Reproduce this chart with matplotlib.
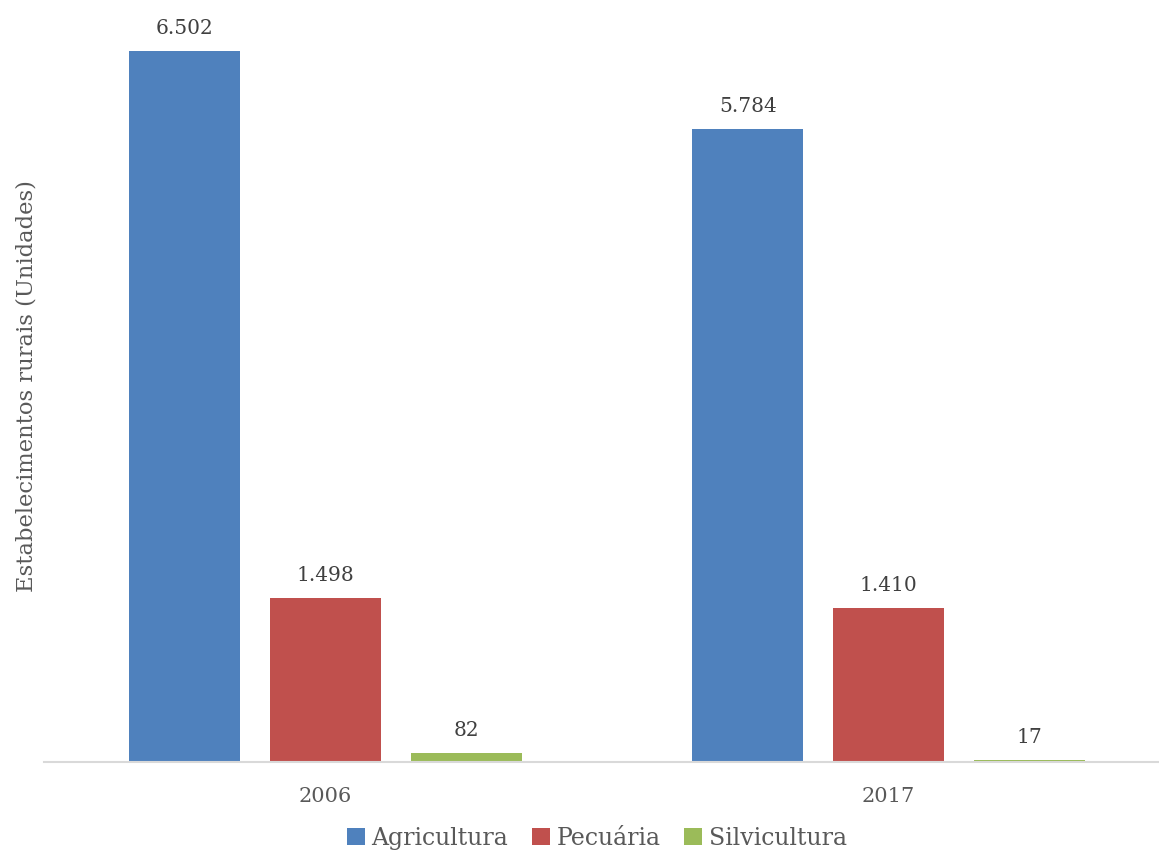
import numpy as np
import matplotlib
matplotlib.use("Agg")
import matplotlib.pyplot as plt

# Estabelecimentos rurais por tipo de atividade
anos = ["2006", "2017"]
agricultura = [6502, 5784]
pecuaria = [1498, 1410]
silvicultura = [82, 17]

series = [
    ("Agricultura", agricultura, "#4F81BD"),
    ("Pecuária", pecuaria, "#C0504D"),
    ("Silvicultura", silvicultura, "#9BBB59"),
]

plt.rcParams["font.family"] = ["DejaVu Serif"]

fig = plt.figure(figsize=(11.59, 8.53), dpi=100)
ax = fig.add_axes([44 / 1159, 1 - 763 / 853, 1126 / 1159, 763 / 853])

x = np.arange(len(anos))
largura = 0.197
passo = 0.25

for i, (nome, valores, cor) in enumerate(series):
    pos = x + (i - 1) * passo
    barras = ax.bar(pos, valores, width=largura, color=cor, label=nome, zorder=2)
    for b, v in zip(barras, valores):
        ax.annotate(f"{v:,}".replace(",", "."),
                    (b.get_x() + b.get_width() / 2, b.get_height()),
                    xytext=(0, 10), textcoords="offset points",
                    ha="center", va="bottom", fontsize=14.5, color="#404040")

ax.set_xlim(-0.5, 1.5)
ax.set_ylim(0, 6975)
ax.set_xticks(x)
ax.set_xticklabels(anos, fontsize=15, color="#595959")
ax.tick_params(axis="x", length=0, pad=17)
ax.set_yticks([])

for lado in ["top", "right", "left"]:
    ax.spines[lado].set_visible(False)
ax.spines["bottom"].set_color("#D9D9D9")
ax.spines["bottom"].set_linewidth(1.5)

fig.text(27 / 1159, 1 - 386 / 853, "Estabelecimentos rurais (Unidades)",
         rotation=90, ha="center", va="center", fontsize=16.3, color="#595959")

leg = fig.legend(loc="center", bbox_to_anchor=(597 / 1159, 1 - 839 / 853), ncol=3,
                 frameon=False, fontsize=17, handlelength=0.75, handleheight=0.75,
                 handletextpad=0.3, columnspacing=1.0)
for t in leg.get_texts():
    t.set_color("#595959")

fig.savefig("out.png", dpi=100)
